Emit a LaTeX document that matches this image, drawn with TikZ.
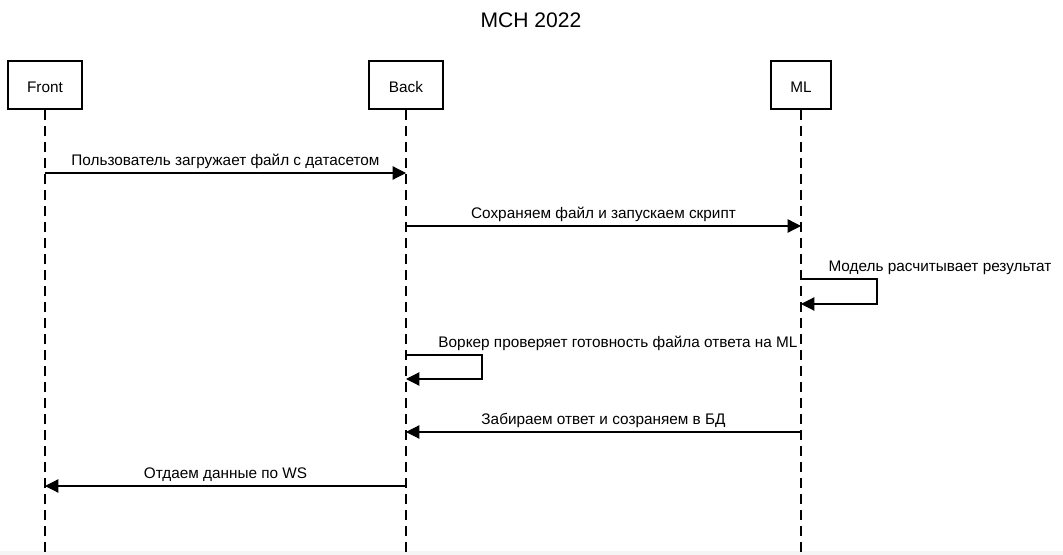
\documentclass[tikz,border=0pt]{standalone}
\usepackage{fontspec}
\setmainfont{Liberation Sans}
\usetikzlibrary{arrows.meta}

\begin{document}
\begin{tikzpicture}[x=0.75pt,y={(0pt,-0.75pt)},font=\fontsize{11.5}{13}\selectfont,
  actor/.style={draw,line width=1.7pt,minimum width=55.5pt,minimum height=36pt,inner sep=0pt,text height=11.4pt,text depth=0pt},
  lifeline/.style={line width=0.9pt,dash pattern=on 7.5pt off 4.5pt},
  msg/.style={line width=0.9pt,-{Triangle[length=10pt,width=10pt]}}]

\useasboundingbox (0,0) rectangle (1063,555);
\fill[black!4] (0,551) rectangle (1063,555);

\node at (531,20) {\fontsize{15.8}{19}\selectfont МСН 2022};

\node[actor] (front) at (45,85) {Front};
\node[actor] (back) at (406,85) {Back};
\node[actor,minimum width=45pt] (ml) at (801,85) {ML};

\coordinate (front end) at (45,555);
\coordinate (back end) at (406,555);
\coordinate (ml end) at (801,555);

\draw[lifeline] (front) -- (front end);
\draw[lifeline] (back) -- (back end);
\draw[lifeline] (ml) -- (ml end);

% messages
\coordinate (f1) at (45,173);
\coordinate (b1) at (406,173);
\coordinate (b2) at (406,226);
\coordinate (m2) at (801,226);
\coordinate (m3) at (801,279);
\coordinate (m3r) at (801,304);
\coordinate (b4) at (406,355);
\coordinate (b4r) at (406,379);
\coordinate (m5) at (801,432);
\coordinate (b5) at (406,432);
\coordinate (b6) at (406,486);
\coordinate (f6) at (45,486);

\draw[msg] (f1) -- node[above=-0.5pt] {Пользователь загружает файл с датасетом} (b1);
\draw[msg] (b2) -- node[above=-0.5pt] {Сохраняем файл и запускаем скрипт} (m2);
\draw[msg] (m3) -- ++(76,0) |- (m3r);
\node[anchor=south] at (940,279) {Модель расчитывает результат};
\draw[msg] (b4) -- ++(76,0) |- (b4r);
\node[anchor=south] at (618,355) {Воркер проверяет готовность файла ответа на ML};
\draw[msg] (m5) -- node[above=-0.5pt] {Забираем ответ и созраняем в БД} (b5);
\draw[msg] (b6) -- node[above=-0.5pt] {Отдаем данные по WS} (f6);

\end{tikzpicture}
\end{document}
